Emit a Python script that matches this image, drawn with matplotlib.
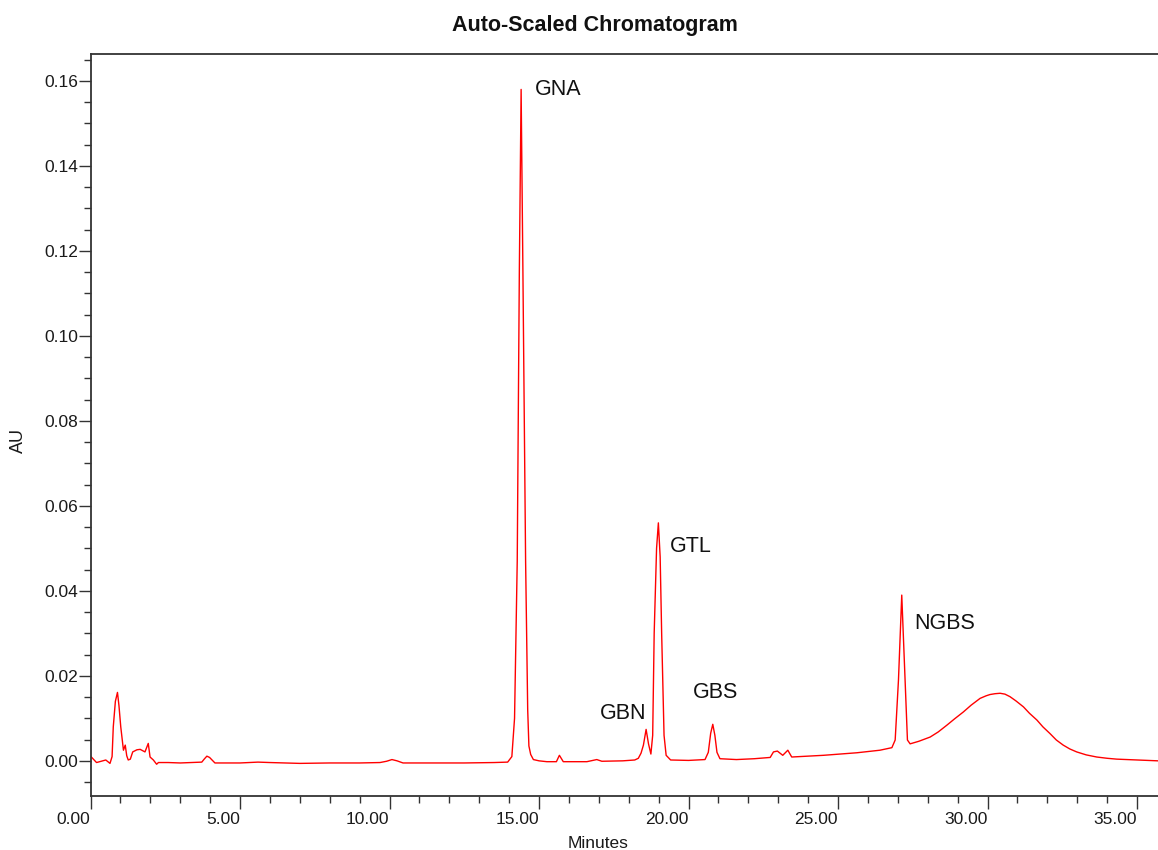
import matplotlib.pyplot as plt
from matplotlib.ticker import MultipleLocator, FormatStrFormatter

plt.rcParams['font.family'] = ['Liberation Sans', 'DejaVu Sans']

# retention time (minutes) and absorbance (AU)
minutes = [0.00, 0.20, 0.51, 0.65, 0.72, 0.76, 0.83, 0.90, 0.95, 1.01,
           1.10, 1.16, 1.21, 1.26, 1.33, 1.41, 1.55, 1.66, 1.82, 1.93,
           1.99, 2.10, 2.21, 2.27, 2.60, 3.00, 3.40, 3.72, 3.80, 3.89,
           3.98, 4.05, 4.16, 5.00, 5.60, 6.00, 7.00, 8.00, 9.00, 9.68,
           9.90, 10.08, 10.25, 10.45, 11.50, 12.50, 13.50, 13.95, 14.09, 14.18,
           14.27, 14.34, 14.40, 14.46, 14.55, 14.62, 14.66, 14.72, 14.81, 15.00,
           15.26, 15.58, 15.68, 15.81, 16.60, 16.93, 17.10, 17.80, 18.20, 18.32,
           18.41, 18.49, 18.58, 18.66, 18.74, 18.80, 18.85, 18.93, 18.99, 19.05,
           19.10, 19.18, 19.25, 19.40, 20.00, 20.55, 20.66, 20.74, 20.81, 20.88,
           20.95, 21.05, 21.60, 22.20, 22.73, 22.84, 22.97, 23.15, 23.32, 23.45,
           24.00, 24.51, 25.63, 26.40, 26.80, 26.91, 27.02, 27.13, 27.24, 27.32,
           27.41, 27.70, 27.97, 28.08, 28.35, 28.64, 28.90, 29.19, 29.45, 29.75,
           29.95, 30.08, 30.25, 30.42, 30.58, 30.75, 30.95, 31.20, 31.40, 31.65,
           31.85, 32.09, 32.30, 32.53, 32.75, 32.98, 33.30, 33.65, 34.00, 34.32,
           34.99, 35.70]
au = [0.0011, -0.0004, 0.0002, -0.0006, 0.0010, 0.0080, 0.0140, 0.0161, 0.0130, 0.0080,
      0.0025, 0.0037, 0.0012, 0.0002, 0.0004, 0.0021, 0.0026, 0.0027, 0.0021, 0.0041,
      0.0009, 0.0002, -0.0008, -0.0004, -0.0004, -0.0005, -0.0004, -0.0003, 0.0004, 0.0011,
      0.0008, 0.0003, -0.0005, -0.0005, -0.0003, -0.0004, -0.0006, -0.0005, -0.0005, -0.0004,
      -0.0001, 0.0003, 0.0000, -0.0005, -0.0005, -0.0005, -0.0004, -0.0003, 0.0010, 0.0100,
      0.0470, 0.1150, 0.1580, 0.1150, 0.0470, 0.0120, 0.0035, 0.0015, 0.0003, 0.0000,
      -0.0002, -0.0002, 0.0013, -0.0002, -0.0002, 0.0003, -0.0001, 0.0000, 0.0002, 0.0006,
      0.0018, 0.0037, 0.0074, 0.0040, 0.0016, 0.0060, 0.0300, 0.0500, 0.0560, 0.0480,
      0.0300, 0.0060, 0.0013, 0.0002, 0.0001, 0.0003, 0.0020, 0.0065, 0.0086, 0.0060,
      0.0020, 0.0005, 0.0003, 0.0005, 0.0008, 0.0021, 0.0023, 0.0013, 0.0025, 0.0009,
      0.0011, 0.0013, 0.0019, 0.0025, 0.0031, 0.0049, 0.0190, 0.0390, 0.0190, 0.0049,
      0.0040, 0.0046, 0.0053, 0.0056, 0.0068, 0.0084, 0.0099, 0.0115, 0.0131, 0.0147,
      0.0153, 0.0156, 0.0158, 0.0159, 0.0157, 0.0151, 0.0141, 0.0127, 0.0112, 0.0096,
      0.0080, 0.0064, 0.0049, 0.0037, 0.0028, 0.0021, 0.0014, 0.0009, 0.0006, 0.0004,
      0.0002, 0.0000]

# peak names and where their labels sit
peak_names = ['GNA', 'GBN', 'GTL', 'GBS', 'NGBS']
label_x = [14.87, 17.02, 19.36, 20.14, 27.55]
label_y = [0.1580, 0.0112, 0.0504, 0.0160, 0.0323]

fig = plt.figure(figsize=(11.58, 8.5), dpi=100)
ax = fig.add_axes([0.0782, 0.0639, 0.9218, 0.8729])

ax.plot(minutes, au, color='#ff0000', linewidth=1.0)

for name, x, y in zip(peak_names, label_x, label_y):
    ax.text(x, y, name, fontsize=15.5, ha='left', va='center', color='#111111')

ax.set_xlim(0, 35.70)
ax.set_ylim(-0.0082, 0.1664)

ax.xaxis.set_major_locator(MultipleLocator(5))
ax.xaxis.set_minor_locator(MultipleLocator(1))
ax.yaxis.set_major_locator(MultipleLocator(0.02))
ax.yaxis.set_minor_locator(MultipleLocator(0.005))
ax.xaxis.set_major_formatter(FormatStrFormatter('%.2f'))
ax.yaxis.set_major_formatter(FormatStrFormatter('%.2f'))

ax.tick_params(which='major', direction='out', length=9, width=1.0, color='#333333',
               labelsize=12.5, labelcolor='#1a1a1a')
ax.tick_params(which='minor', direction='out', length=5, width=1.0, color='#333333')
ax.tick_params(axis='y', which='major', pad=0)
ax.tick_params(axis='x', which='major', pad=3)
for lbl in ax.get_xticklabels():
    lbl.set_horizontalalignment('right')

for side in ['left', 'top', 'bottom']:
    ax.spines[side].set_color('#333333')
    ax.spines[side].set_linewidth(1.3)
ax.spines['right'].set_visible(False)

# judul dan label sumbu
fig.text(595 / 1158, 1 - 25 / 850, 'Auto-Scaled Chromatogram', fontsize=15.5,
         fontweight='bold', ha='center', va='center', color='#111111')
fig.text(18 / 1158, 1 - 440 / 850, 'AU', fontsize=13, rotation=90,
         ha='center', va='center', color='#1a1a1a')
fig.text(598 / 1158, 1 - 836 / 850, 'Minutes', fontsize=12.5,
         ha='center', va='top', color='#1a1a1a')

plt.savefig('out.png', dpi=100)
